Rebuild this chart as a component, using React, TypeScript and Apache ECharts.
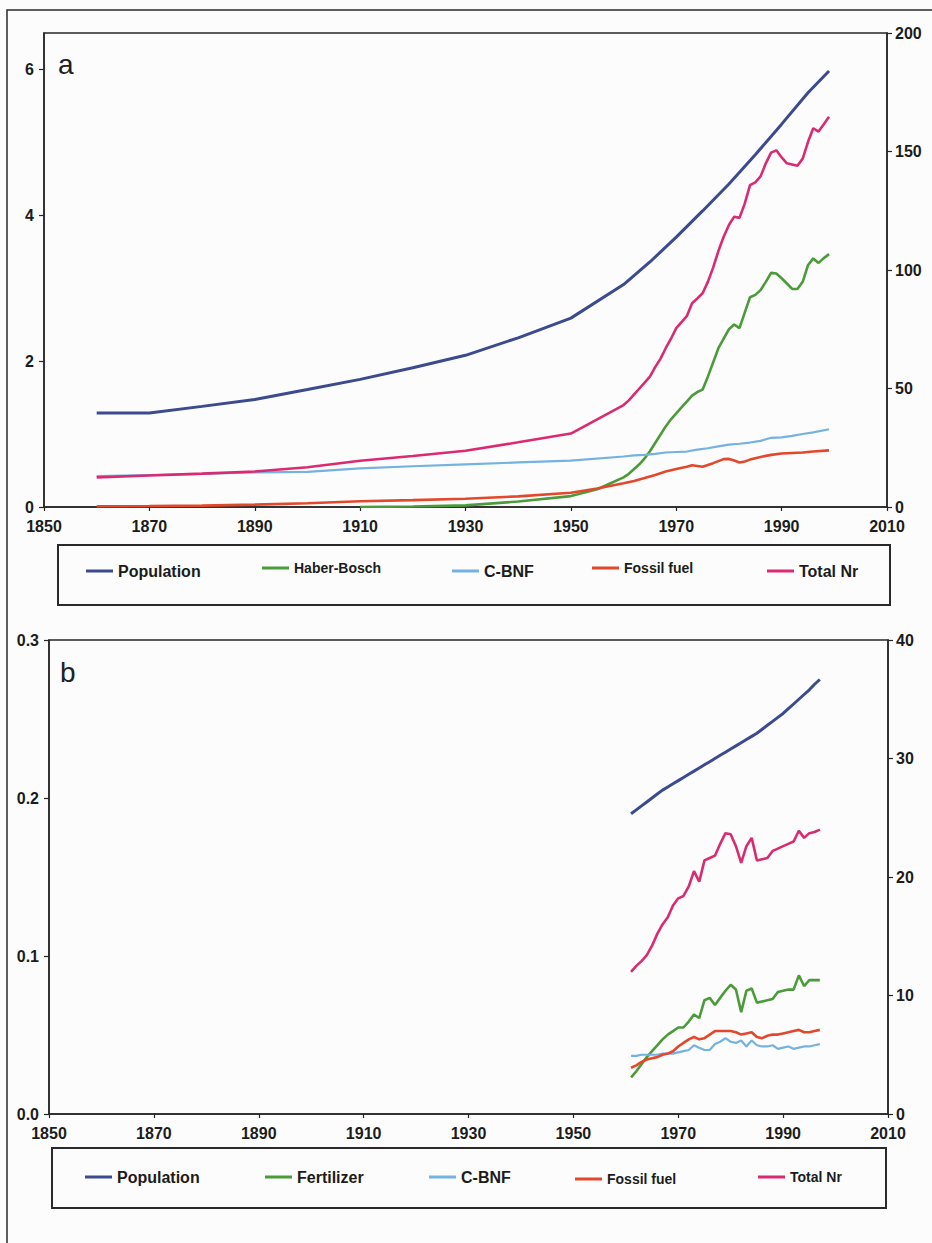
import React, { useEffect, useRef } from "react";
import * as echarts from "echarts";

// ---------- Panel a (global) ----------
const popAYears = [1860, 1870, 1880, 1890, 1900, 1910, 1920, 1930, 1940, 1950, 1960, 1965, 1970, 1975, 1980, 1985, 1990, 1995, 1999];
const popAValues = [1.29, 1.29, 1.38, 1.475, 1.61, 1.75, 1.91, 2.08, 2.32, 2.59, 3.05, 3.36, 3.7, 4.06, 4.43, 4.83, 5.25, 5.68, 5.98];

const hbAYears = [1910, 1920, 1930, 1940, 1950, 1955,
  1960, 1961, 1962, 1963, 1964, 1965, 1966, 1967, 1968, 1969,
  1970, 1971, 1972, 1973, 1974, 1975, 1976, 1977, 1978, 1979,
  1980, 1981, 1982, 1983, 1984, 1985, 1986, 1987, 1988, 1989,
  1990, 1991, 1992, 1993, 1994, 1995, 1996, 1997, 1998, 1999];
const hbAValues = [0, 0.2, 0.7, 2.3, 4.6, 7.5,
  12.5, 14, 16, 18, 20.5, 23.5, 27, 30.5, 34, 37,
  39.5, 42, 44.5, 47, 48.5, 49.5, 55, 61, 67, 71,
  75, 77, 75.5, 82, 88.5, 89.5, 91.5, 95, 98.8, 98.5,
  96.5, 94.3, 92, 92, 95, 102, 104.9, 103, 105, 106.7];

const cbnfAYears = [1860, 1870, 1880, 1890, 1900, 1910, 1920, 1930, 1940, 1950,
  1960, 1962, 1964, 1966, 1968, 1970, 1972, 1974, 1976, 1978,
  1980, 1982, 1984, 1986, 1988, 1990, 1992, 1994, 1996, 1999];
const cbnfAValues = [13, 13.5, 14, 14.6, 14.8, 16.3, 17.2, 18, 18.8, 19.6,
  21.3, 21.8, 22, 22.4, 23, 23.2, 23.4, 24.2, 24.8, 25.6,
  26.3, 26.7, 27.2, 27.9, 29.2, 29.4, 30, 30.8, 31.5, 32.8];

const fossilAYears = [1860, 1870, 1880, 1890, 1900, 1910, 1920, 1930, 1940, 1950, 1955,
  1960, 1962, 1964, 1966, 1968, 1970, 1972, 1973, 1975, 1977, 1979, 1980, 1981, 1982,
  1983, 1984, 1986, 1988, 1990, 1992, 1994, 1996, 1999];
const fossilAValues = [0.3, 0.4, 0.6, 1.0, 1.6, 2.4, 2.9, 3.5, 4.5, 6.0, 7.8,
  10.0, 11.0, 12.2, 13.5, 15.0, 16.0, 17.0, 17.6, 17.0, 18.5, 20.2, 20.3, 19.6, 18.8,
  19.2, 20.0, 21.1, 22.0, 22.6, 22.8, 23.0, 23.4, 23.9];

const totalAYears = [1860, 1870, 1880, 1890, 1900, 1910, 1920, 1930, 1940, 1950,
  1960, 1961, 1962, 1963, 1964, 1965, 1966, 1967, 1968, 1969,
  1970, 1971, 1972, 1973, 1974, 1975, 1976, 1977, 1978, 1979,
  1980, 1981, 1982, 1983, 1984, 1985, 1986, 1987, 1988, 1989,
  1990, 1991, 1992, 1993, 1994, 1995, 1996, 1997, 1998, 1999];
const totalAValues = [12.5, 13.3, 14.1, 15.0, 16.8, 19.5, 21.5, 23.7, 27.3, 31.0,
  43, 45, 47.5, 50, 52.5, 55, 59, 62.5, 67, 71,
  75.5, 78, 80.5, 86, 88, 90.2, 95, 101, 108, 114,
  119, 122.5, 122, 128, 135.8, 137, 139.5, 145, 149.5, 150.5,
  147.5, 145, 144.5, 144, 147, 154, 159.8, 158.4, 161.5, 164.7];

// ---------- Panel b (1961-1997) ----------
const yearsB = [1961, 1962, 1963, 1964, 1965, 1966, 1967, 1968, 1969, 1970,
  1971, 1972, 1973, 1974, 1975, 1976, 1977, 1978, 1979, 1980,
  1981, 1982, 1983, 1984, 1985, 1986, 1987, 1988, 1989, 1990,
  1991, 1992, 1993, 1994, 1995, 1996, 1997];
const popBValues = [0.19, 0.1925, 0.195, 0.1975, 0.2, 0.2025, 0.205, 0.207, 0.209, 0.211,
  0.213, 0.215, 0.217, 0.219, 0.221, 0.223, 0.225, 0.227, 0.229, 0.231,
  0.233, 0.235, 0.237, 0.239, 0.241, 0.2435, 0.246, 0.2485, 0.251, 0.2535,
  0.2565, 0.2595, 0.2625, 0.2655, 0.2685, 0.272, 0.275];
const fertBValues = [3.1, 3.6, 4.2, 4.8, 5.3, 5.8, 6.3, 6.7, 7.0, 7.3,
  7.3, 7.8, 8.4, 8.1, 9.6, 9.8, 9.2, 9.8, 10.4, 10.9,
  10.5, 8.6, 10.4, 10.6, 9.4, 9.5, 9.6, 9.7, 10.3, 10.4,
  10.5, 10.5, 11.7, 10.8, 11.3, 11.3, 11.3];
const cbnfBValues = [4.9, 4.9, 5.0, 5.0, 5.0, 5.0, 5.1, 5.1, 5.1, 5.2,
  5.3, 5.4, 5.8, 5.6, 5.4, 5.4, 5.9, 6.1, 6.4, 6.1,
  6.0, 6.2, 5.7, 6.2, 5.8, 5.7, 5.7, 5.8, 5.5, 5.6,
  5.7, 5.5, 5.6, 5.7, 5.7, 5.8, 5.9];
const fossilBValues = [3.9, 4.1, 4.4, 4.6, 4.7, 4.8, 5.0, 5.1, 5.3, 5.7,
  6.0, 6.3, 6.5, 6.3, 6.4, 6.7, 7.0, 7.0, 7.0, 7.0,
  6.9, 6.7, 6.8, 6.9, 6.5, 6.4, 6.6, 6.7, 6.7, 6.8,
  6.9, 7.0, 7.1, 6.9, 6.9, 7.0, 7.1];
const totalBValues = [12.0, 12.5, 12.9, 13.4, 14.2, 15.2, 16.0, 16.6, 17.6, 18.2,
  18.4, 19.2, 20.5, 19.6, 21.4, 21.6, 21.8, 22.8, 23.7, 23.6,
  22.6, 21.2, 22.6, 23.3, 21.4, 21.5, 21.6, 22.2, 22.4, 22.6,
  22.8, 23.0, 23.9, 23.3, 23.7, 23.8, 24.0];

const xRange = [1850, 2010];

const COLORS = {
  pop: "#3c4a8f",
  green: "#4c9b3b",
  cbnf: "#74b2e2",
  fossil: "#e2482c",
  total: "#d92a72",
};

const FONT = "'Liberation Sans', Arial, sans-serif";
const AXIS_COLOR = "#262626";

const pairs = (xs: number[], ys: number[]) => xs.map((x, i) => [x, ys[i]]);

export default function App() {
  const ref = useRef<HTMLDivElement>(null);

  useEffect(() => {
    if (!ref.current) return;
    const chart = echarts.init(ref.current, undefined, { renderer: "svg" });

    const labelStyle = {
      fontFamily: FONT,
      fontWeight: "bold" as const,
      fontSize: 16,
      color: "#1c1c1c",
    };
    const lineCommon = { show: true, lineStyle: { color: AXIS_COLOR, width: 1.5 } };
    const tickCommon = { show: true, length: 4, lineStyle: { color: AXIS_COLOR, width: 1.2 } };

    const xAxisFor = (gridIndex: number) => ({
      type: "value" as const,
      gridIndex,
      min: xRange[0],
      max: xRange[1],
      interval: 20,
      axisLine: { ...lineCommon, onZero: false },
      axisTick: tickCommon,
      axisLabel: { ...labelStyle, margin: 11, formatter: (v: number) => String(v) },
      splitLine: { show: false },
    });

    const yAxisFor = (gridIndex: number, position: "left" | "right", max: number, interval: number, extra: any = {}) => ({
      type: "value" as const,
      gridIndex,
      position,
      min: 0,
      max,
      interval,
      axisLine: { ...lineCommon, onZero: false },
      axisTick: { ...tickCommon, length: 5 },
      axisLabel: { ...labelStyle, margin: position === "left" ? 10 : 8, ...extra },
      splitLine: { show: false },
    });

    const line = (name: string, data: number[][], color: string, xAxisIndex: number, yAxisIndex: number, width: number, z: number) => ({
      name,
      type: "line" as const,
      xAxisIndex,
      yAxisIndex,
      data,
      showSymbol: false,
      symbol: "none",
      smooth: false,
      lineStyle: { color, width },
      itemStyle: { color },
      z,
    });

    const legendItem = (name: string, left: number, centerY: number, fontSize: number) => ({
      data: [name],
      left,
      top: centerY - fontSize / 2 - 1,
      padding: 0,
      icon: "rect",
      itemWidth: 27,
      itemHeight: 3,
      selectedMode: false,
      textStyle: { fontFamily: FONT, fontWeight: "bold", fontSize, color: "#1c1c1c" },
    });

    const option: any = {
      animation: false,
      backgroundColor: "#fbfcfb",
      grid: [
        { left: 44, top: 33, width: 843, height: 474, show: true, borderColor: AXIS_COLOR, borderWidth: 1.5, backgroundColor: "transparent" },
        { left: 49, top: 640, width: 839, height: 474, show: true, borderColor: AXIS_COLOR, borderWidth: 1.5, backgroundColor: "transparent" },
      ],
      xAxis: [xAxisFor(0), xAxisFor(1)],
      yAxis: [
        yAxisFor(0, "left", 6.5, 2, { showMaxLabel: false }),
        yAxisFor(0, "right", 200, 50),
        yAxisFor(1, "left", 0.3, 0.1, { formatter: (v: number) => v.toFixed(1) }),
        yAxisFor(1, "right", 40, 10),
      ],
      legend: [
        legendItem("Population", 86, 572, 16),
        legendItem("Haber-Bosch", 262, 569, 14),
        legendItem("C-BNF", 452, 572, 16),
        legendItem("Fossil fuel", 592, 569, 14),
        legendItem("Total Nr", 767, 572, 16),
        legendItem("Population", 85, 1178, 16),
        legendItem("Fertilizer", 265, 1178, 16),
        legendItem("C-BNF", 429, 1178, 16),
        legendItem("Fossil fuel", 575, 1180, 14),
        legendItem("Total Nr", 758, 1178, 14),
      ],
      series: [
        line("Population", pairs(popAYears, popAValues), COLORS.pop, 0, 0, 3, 2),
        line("Haber-Bosch", pairs(hbAYears, hbAValues), COLORS.green, 0, 1, 2.6, 3),
        line("C-BNF", pairs(cbnfAYears, cbnfAValues), COLORS.cbnf, 0, 1, 2.2, 4),
        line("Fossil fuel", pairs(fossilAYears, fossilAValues), COLORS.fossil, 0, 1, 2.6, 5),
        line("Total Nr", pairs(totalAYears, totalAValues), COLORS.total, 0, 1, 2.6, 6),
        line("Population", pairs(yearsB, popBValues), COLORS.pop, 1, 2, 3, 2),
        line("Fertilizer", pairs(yearsB, fertBValues), COLORS.green, 1, 3, 2.6, 3),
        line("C-BNF", pairs(yearsB, cbnfBValues), COLORS.cbnf, 1, 3, 2.2, 4),
        line("Fossil fuel", pairs(yearsB, fossilBValues), COLORS.fossil, 1, 3, 2.6, 5),
        line("Total Nr", pairs(yearsB, totalBValues), COLORS.total, 1, 3, 2.6, 6),
      ],
      graphic: [
        { type: "rect", z: -1, silent: true, shape: { x: 7, y: 10, width: 960, height: 1260 }, style: { fill: "none", stroke: "#2a2a2a", lineWidth: 1.5 } },
        { type: "rect", silent: true, shape: { x: 58, y: 545, width: 832, height: 60 }, style: { fill: "none", stroke: "#2a2a2a", lineWidth: 2 } },
        { type: "rect", silent: true, shape: { x: 52, y: 1148, width: 834, height: 60 }, style: { fill: "none", stroke: "#2a2a2a", lineWidth: 2 } },
        { type: "text", left: 58, top: 50, style: { text: "a", font: `28px ${FONT}`, fill: "#222" } },
        { type: "text", left: 60, top: 658, style: { text: "b", font: `28px ${FONT}`, fill: "#222" } },
      ],
    };

    chart.setOption(option);
    return () => chart.dispose();
  }, []);

  return (
    <div
      ref={ref}
      style={{ position: "absolute", left: 0, top: 0, width: 932, height: 1243 }}
    />
  );
}
